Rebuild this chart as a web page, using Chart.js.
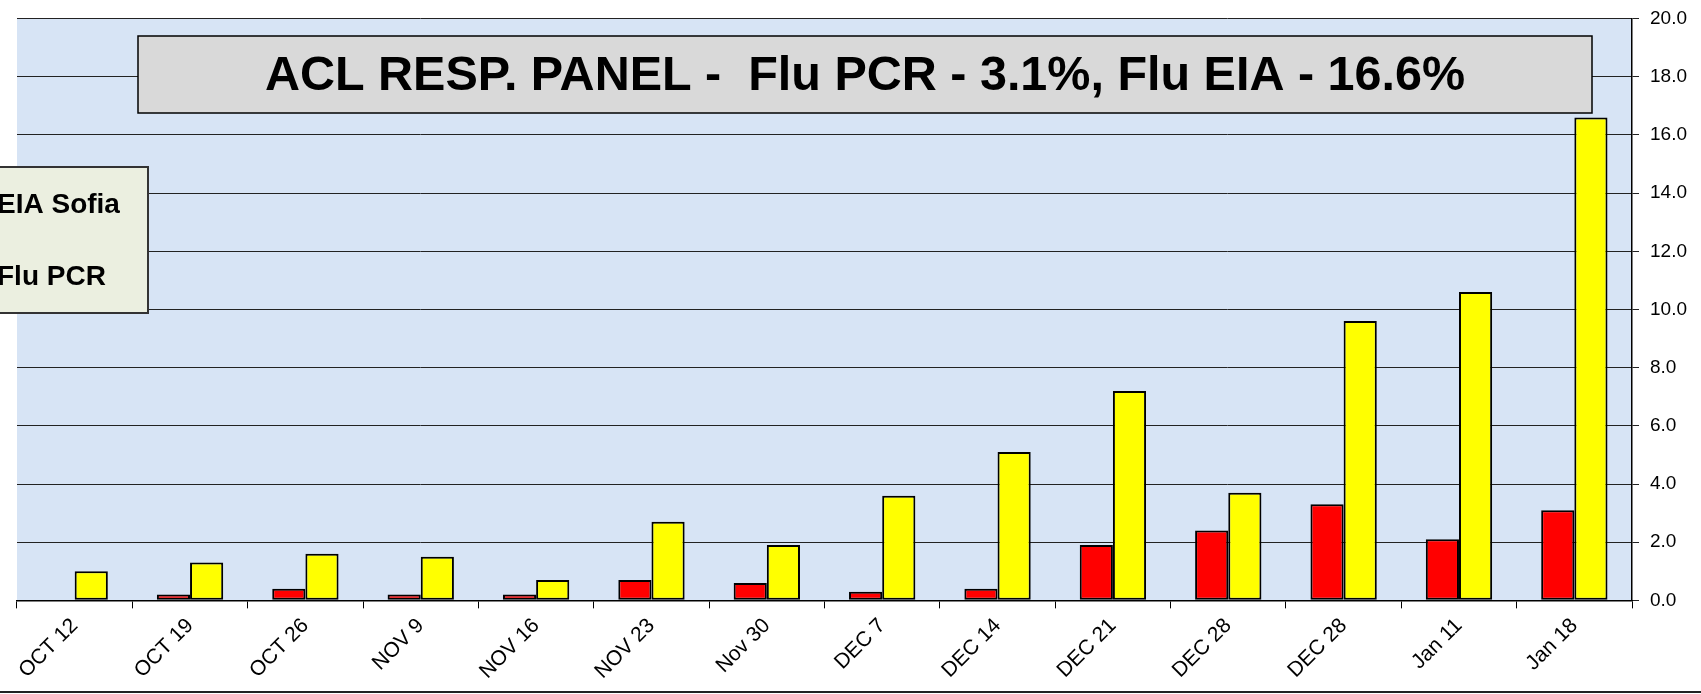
<!DOCTYPE html>
<html>
<head>
<meta charset="utf-8">
<script src="https://cdn.jsdelivr.net/npm/chart.js@4"></script>
<style>
  body { margin: 0; background: #fff; }
  #wrap { width: 1701px; height: 694px; }
</style>
</head>
<body>
<div id="wrap"><canvas id="chart-flu" width="1701" height="694"></canvas></div>
<script>
const semanas = ['OCT 12', 'OCT 19', 'OCT 26', 'NOV 9', 'NOV 16', 'NOV 23', 'Nov 30',
  'DEC 7', 'DEC 14', 'DEC 21', 'DEC 28', 'DEC 28', 'Jan 11', 'Jan 18'];
const fluPCR = [0, 0.2, 0.4, 0.2, 0.2, 0.7, 0.6, 0.3, 0.4, 1.9, 2.4, 3.3, 2.1, 3.1];
const eiaSofia = [1.0, 1.3, 1.6, 1.5, 0.7, 2.7, 1.9, 3.6, 5.1, 7.2, 3.7, 9.6, 10.6, 16.6];
const legendLabels = ['EIA Sofia', 'Flu PCR'];
const titulo = 'ACL RESP. PANEL -  Flu PCR - 3.1%, Flu EIA - 16.6%';

const fonte = '"Liberation Sans", Arial, sans-serif';

// fundo da area do grafico, caixa do titulo e legenda (cortada a esquerda)
const molduraPlugin = {
  id: 'moldura',
  beforeDraw(chart) {
    const ctx = chart.ctx;
    const a = chart.chartArea;
    ctx.save();
    ctx.fillStyle = '#fff';
    ctx.fillRect(0, 0, chart.width, chart.height);
    ctx.fillStyle = '#D7E4F5';
    ctx.fillRect(a.left, a.top, a.right - a.left, a.bottom - a.top);
    ctx.restore();
  },
  afterDraw(chart) {
    const ctx = chart.ctx;
    ctx.save();

    // titulo
    ctx.fillStyle = '#D9D9D9';
    ctx.fillRect(138, 36, 1454, 77);
    ctx.strokeStyle = '#000';
    ctx.lineWidth = 1.5;
    ctx.strokeRect(138, 36, 1454, 77);
    ctx.fillStyle = '#000';
    ctx.font = 'bold 48.5px ' + fonte;
    ctx.textAlign = 'center';
    ctx.textBaseline = 'middle';
    ctx.fillText(titulo, 865, 77);

    // legenda
    ctx.fillStyle = '#EBEFE0';
    ctx.fillRect(-200, 167, 348, 146);
    ctx.strokeStyle = '#333';
    ctx.lineWidth = 2;
    ctx.strokeRect(-200, 167, 348, 146);
    ctx.fillStyle = '#000';
    ctx.font = 'bold 28px ' + fonte;
    ctx.textAlign = 'left';
    ctx.fillText(legendLabels[0], -3, 205);
    ctx.fillText(legendLabels[1], -3, 277);

    // linha inferior
    ctx.strokeStyle = '#222';
    ctx.lineWidth = 2;
    ctx.beginPath();
    ctx.moveTo(0, 692);
    ctx.lineTo(chart.width, 692);
    ctx.stroke();

    ctx.restore();
  }
};

const dataFlu = {
  labels: semanas,
  datasets: [{
    label: 'Flu PCR',
    backgroundColor: '#FF0000',
    borderColor: '#000',
    borderWidth: 2,
    borderSkipped: false,
    data: fluPCR
  },

  {
    label: 'EIA Sofia',
    backgroundColor: '#FFFF00',
    borderColor: '#000',
    borderWidth: 2,
    borderSkipped: false,
    data: eiaSofia
  }]
};

const configFlu = {
  type: 'bar',
  data: dataFlu,
  options: {
    responsive: false,
    animation: false,
    devicePixelRatio: 1,
    categoryPercentage: 0.575,
    barPercentage: 1.0,
    layout: {
      padding: { left: 17, right: 3, top: 17, bottom: 5 }
    },
    plugins: {
      legend: { display: false },
      tooltip: { enabled: false }
    },
    scales: {
      x: {
        offset: true,
        grid: {
          offset: true,
          drawOnChartArea: false,
          color: '#000',
          tickLength: 8
        },
        border: { color: '#000', width: 1.5 },
        ticks: {
          minRotation: 45,
          maxRotation: 45,
          autoSkip: false,
          color: '#000',
          padding: 5,
          font: { family: fonte, size: 21 }
        }
      },
      y: {
        position: 'right',
        min: 0,
        max: 20,
        ticks: {
          stepSize: 2,
          color: '#000',
          padding: 11,
          font: { family: fonte, size: 19, lineHeight: 0.8 },
          callback: (v) => Number(v).toFixed(1)
        },
        grid: {
          color: '#222',
          lineWidth: 1,
          tickLength: 7
        },
        border: { color: '#000', width: 1.5 }
      }
    }
  },
  plugins: [molduraPlugin]
};

const chartFlu = new Chart(
  document.getElementById('chart-flu'),
  configFlu
);
</script>
</body>
</html>
